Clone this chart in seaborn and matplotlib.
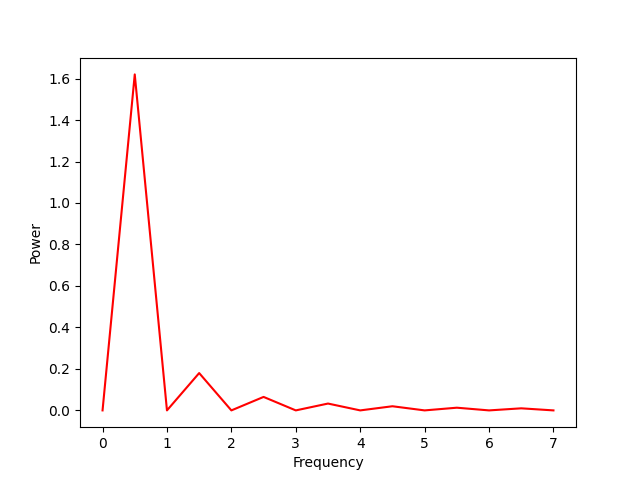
import numpy as np
import pandas as pd
import matplotlib
matplotlib.use('Agg')
import matplotlib.pyplot as plt
import seaborn as sns

# Values
frequency = [0.0, 0.5, 1.0, 1.5, 2.0, 2.5, 3.0, 3.5, 4.0, 4.5, 5.0, 5.5, 6.0, 6.5, 7.0]
power = [0.0, 1.62, 0.0, 0.18, 0.0, 0.065, 0.0, 0.033, 0.0, 0.02, 0.0, 0.013, 0.0, 0.01, 0.0]

df = pd.DataFrame({'Frequency': frequency, 'Power': power})

fig, ax = plt.subplots(figsize=(6.4, 4.8), dpi=100)
sns.lineplot(data=df, x='Frequency', y='Power', color='red', ax=ax)
ax.set_xlabel('Frequency')
ax.set_ylabel('Power')

plt.savefig('out.png', dpi=100)
